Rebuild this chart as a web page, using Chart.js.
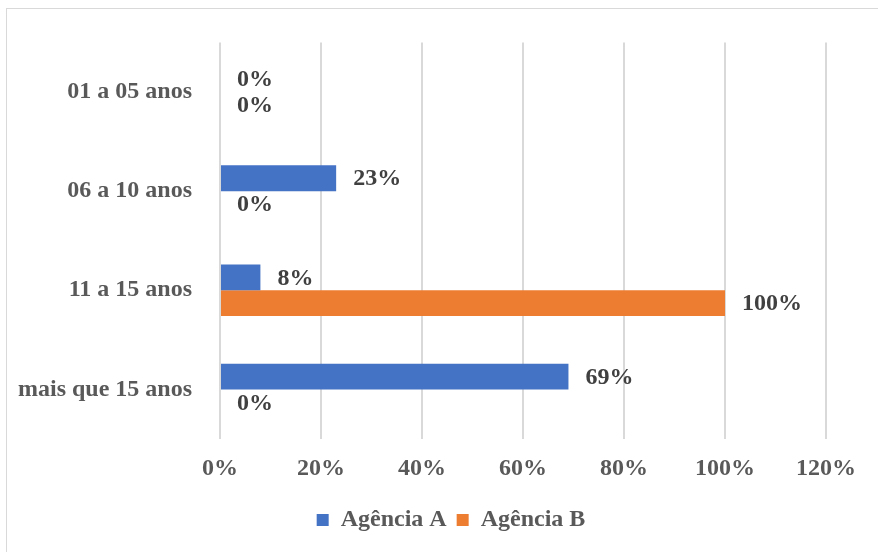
<!DOCTYPE html>
<html>
<head>
<meta charset="utf-8">
<script src="https://cdn.jsdelivr.net/npm/chart.js@4"></script>
<style>
    html, body { margin: 0; padding: 0; background: #fff; overflow: hidden; }
    #frame {
        position: absolute; left: 6px; top: 8px; width: 1000px; height: 1000px;
        border: 1.5px solid #d9d9d9; box-sizing: border-box;
    }
    #wrap { position: absolute; left: 0; top: 0; width: 878px; height: 552px; }
</style>
</head>
<body>
<div id="frame"></div>
<div id="wrap"><canvas id="myChart" width="878" height="552"></canvas></div>
<script>
const categorias = ['01 a 05 anos', '06 a 10 anos', '11 a 15 anos', 'mais que 15 anos'];
const agenciaA = [0, 23, 8, 69];
const agenciaB = [0, 0, 100, 0];
const ticksX = [0, 20, 40, 60, 80, 100, 120];

const fonte = '"Liberation Serif", "Times New Roman", serif';

// escreve o valor ao lado de cada barra
const rotulos = {
    id: 'rotulos',
    afterDatasetsDraw(chart) {
        const ctx = chart.ctx;
        ctx.save();
        ctx.font = 'bold 24px ' + fonte;
        ctx.fillStyle = '#404040';
        ctx.textAlign = 'left';
        ctx.textBaseline = 'middle';
        chart.data.datasets.forEach((ds, i) => {
            chart.getDatasetMeta(i).data.forEach((bar, j) => {
                ctx.fillText(ds.data[j] + '%', bar.x + 17, bar.y + 1);
            });
        });
        ctx.restore();
    }
};

// desloca a legenda um pouco para a direita
const moverLegenda = {
    id: 'moverLegenda',
    afterLayout(chart) {
        const l = chart.legend;
        l.left += 38;
        l.right += 38;
    }
};

getContext();

function getContext() {
    data = {
        labels: categorias,
        datasets: [
            createDataset('Agência A', agenciaA, '#4472C4'),
            createDataset('Agência B', agenciaB, '#ED7D31')
        ]
    }
    generateChart(data)
}

function createDataset(text, data, color) {
    const dataset = {
        label: text,
        data: data,
        backgroundColor: color,
        borderWidth: 0,
        categoryPercentage: 0.52,
        barPercentage: 1
    }
    return dataset;
}

function generateChart(data) {

    const ctx = document.getElementById('myChart');

    new Chart(ctx, {
        type: 'bar',
        data: data,
        plugins: [rotulos, moverLegenda],
        options:
        {
            indexAxis: 'y',
            responsive: false,
            animation: false,
            layout: {
                padding: { top: 38, right: 52, left: 0, bottom: 10 }
            },
            scales: {
                x: {
                    min: 0,
                    max: 120,
                    afterBuildTicks: (scale) => {
                        scale.ticks = ticksX.map(v => ({ value: v }));
                    },
                    afterFit: (scale) => { scale.height = 59; },
                    grid: {
                        color: '#d9d9d9',
                        lineWidth: 2,
                        drawTicks: false
                    },
                    border: { display: false },
                    ticks: {
                        padding: 15,
                        color: '#595959',
                        font: { family: fonte, size: 24, weight: 'bold' },
                        callback: (v) => v + '%'
                    }
                },
                y: {
                    afterFit: (scale) => { scale.width = 220; },
                    grid: {
                        display: false,
                        drawTicks: false
                    },
                    border: { display: false },
                    ticks: {
                        padding: 28,
                        color: '#595959',
                        font: { family: fonte, size: 24, weight: 'bold' }
                    }
                }

            },
            plugins: {
                legend:
                {
                    position: 'bottom',
                    labels: {
                        boxWidth: 12,
                        boxHeight: 12,
                        padding: 10,
                        color: '#595959',
                        font: { family: fonte, size: 24, weight: 'bold' }
                    }
                },
                tooltip: { enabled: false }
            }
        }

    });
}
</script>
</body>
</html>
